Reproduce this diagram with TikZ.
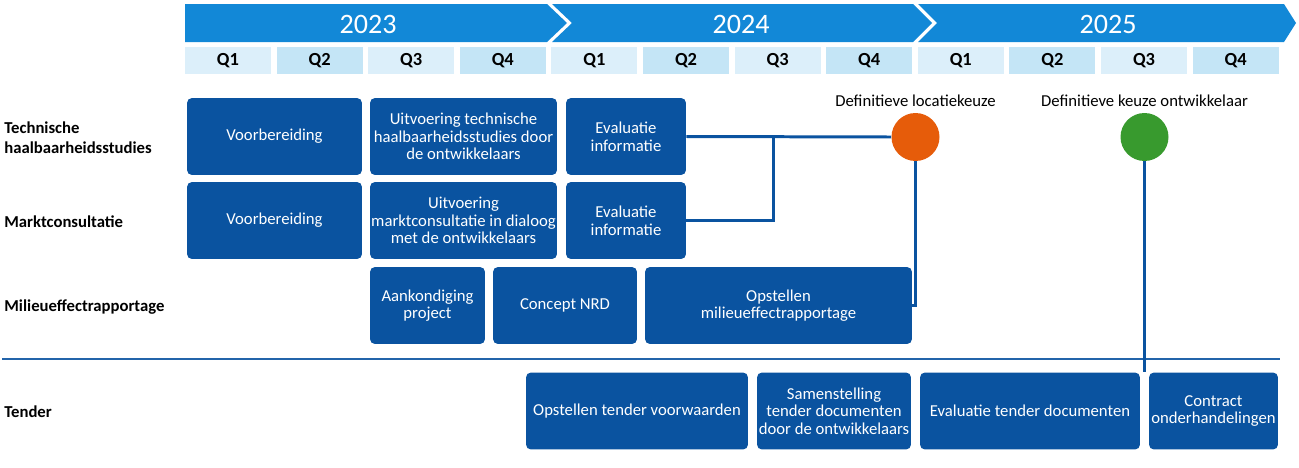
\documentclass[tikz,border=0pt]{standalone}
\usepackage{fontspec}
\setmainfont{Carlito}
\usepackage{tikz}
\usetikzlibrary{positioning}

\definecolor{yearblue}{HTML}{1288D7}
\definecolor{taskblue}{HTML}{0A53A0}
\definecolor{qlight}{HTML}{DCEFFA}
\definecolor{qdark}{HTML}{C4E5F6}
\definecolor{mileorange}{HTML}{E65C0A}
\definecolor{milegreen}{HTML}{389A2E}

\tikzset{
  task/.style={fill=taskblue, rounded corners=2.8pt, text=white, align=center,
    inner sep=0pt, minimum height=1.54cm, font=\fontsize{9.5}{10}\selectfont},
  quarter/.style={minimum width=1.72cm, minimum height=0.54cm, inner sep=0pt,
    font=\fontsize{10.5}{12}\selectfont\bfseries},
  lane/.style={anchor=west, align=left, inner sep=0pt,
    font=\fontsize{9.5}{11.5}\selectfont\bfseries},
  mile/.style={circle, minimum size=0.96cm, inner sep=0pt},
  milelabel/.style={inner sep=0pt, font=\fontsize{9.5}{11}\selectfont},
  link/.style={draw=taskblue, line width=1.7pt},
  year/.style={text=white, inner sep=0pt, font=\fontsize{16}{18}\selectfont}
}

\begin{document}
\begin{tikzpicture}[x=0.02cm,y=-0.02cm]
   \useasboundingbox (0,0) rectangle (1299,467);
   % jaren
   \fill[yearblue] (185,4) -- (547,4) -- (567,23) -- (547,42) -- (185,42) -- cycle;
   \fill[yearblue] (552,4) -- (913,4) -- (932,23) -- (913,42) -- (552,42) -- (572,23) -- cycle;
   \fill[yearblue] (918,4) -- (1284,4) -- (1296,23) -- (1284,42) -- (918,42) -- (937,23) -- cycle;
   \node[year] (y2023) at (368,24) {2023};
   \node[year] (y2024) at (741,24) {2024};
   \node[year] (y2025) at (1108,24) {2025};
   % kwartalen
   \foreach \k in {0,...,11}{
     \pgfmathtruncatemacro\qn{mod(\k,4)+1}
     \pgfmathsetmacro\qx{228+91.6*\k}
     \ifodd\k \def\qfill{qdark}\else \def\qfill{qlight}\fi
     \node[quarter,fill=\qfill] (q\k) at (\qx,60.5) {Q\qn};
   }
   % sporen
   \node[lane] (technisch) at (4,138) {Technische\\haalbaarheidsstudies};
   \node[lane] (markt) at (4,222) {Marktconsultatie};
   \node[lane] (mer) at (4,307) {Milieueffectrapportage};
   \node[lane] (tender) at (4,412) {Tender};
   \draw[draw=taskblue!90, line width=1.4pt] (2,359) -- (1280,359);
   % activiteiten
   \node[task, minimum width=3.5cm] (vorb1) at (274.5,136.5) {Voorbereiding};
   \node[task, minimum width=3.74cm] (uitv1) at (463.5,136.5) {Uitvoering technische\\haalbaarheidsstudies door\\de ontwikkelaars};
   \node[task, minimum width=2.4cm] (eval1) at (626,136.5) {Evaluatie\\informatie};
   \node[task, minimum width=3.5cm] (vorb2) at (274.5,220.5) {Voorbereiding};
   \node[task, minimum width=3.74cm] (uitv2) at (463.5,220.5) {Uitvoering\\marktconsultatie in dialoog\\met de ontwikkelaars};
   \node[task, minimum width=2.4cm] (eval2) at (626,220.5) {Evaluatie\\informatie};
   \node[task, minimum width=2.3cm] (aank) at (427.5,305.5) {Aankondiging\\project};
   \node[task, minimum width=2.88cm] (nrd) at (565,305.5) {Concept NRD};
   \node[task, minimum width=5.34cm] (opstmer) at (778.5,305.5) {Opstellen\\milieueffectrapportage};
   \node[task, minimum width=4.44cm] (voorw) at (637,411) {Opstellen tender voorwaarden};
   \node[task, minimum width=3.08cm] (samen) at (834,411) {Samenstelling\\tender documenten\\door de ontwikkelaars};
   \node[task, minimum width=4.4cm] (evtender) at (1030,411) {Evaluatie tender documenten};
   \node[task, minimum width=2.58cm] (contract) at (1213.5,411) {Contract\\onderhandelingen};
   % mijlpalen
   \node[mile, fill=mileorange] (locatie) at (915.5,137) {};
   \node[mile, fill=milegreen] (keuze) at (1144.5,137) {};
   \node[milelabel] at (915.5,101) {Definitieve locatiekeuze};
   \node[milelabel] at (1144.5,101) {Definitieve keuze ontwikkelaar};
   \coordinate (samenkomst) at (773,136.5);
   \coordinate (keuzeeind) at (1144.5,372);
   \draw[link] (eval1.east) -- (locatie.west);
   \draw[link] (eval2.east) -| (samenkomst);
   \draw[link] (locatie.south) |- (opstmer.east);
   \draw[link] (keuze.south) -- (keuzeeind);
\end{tikzpicture}
\end{document}
